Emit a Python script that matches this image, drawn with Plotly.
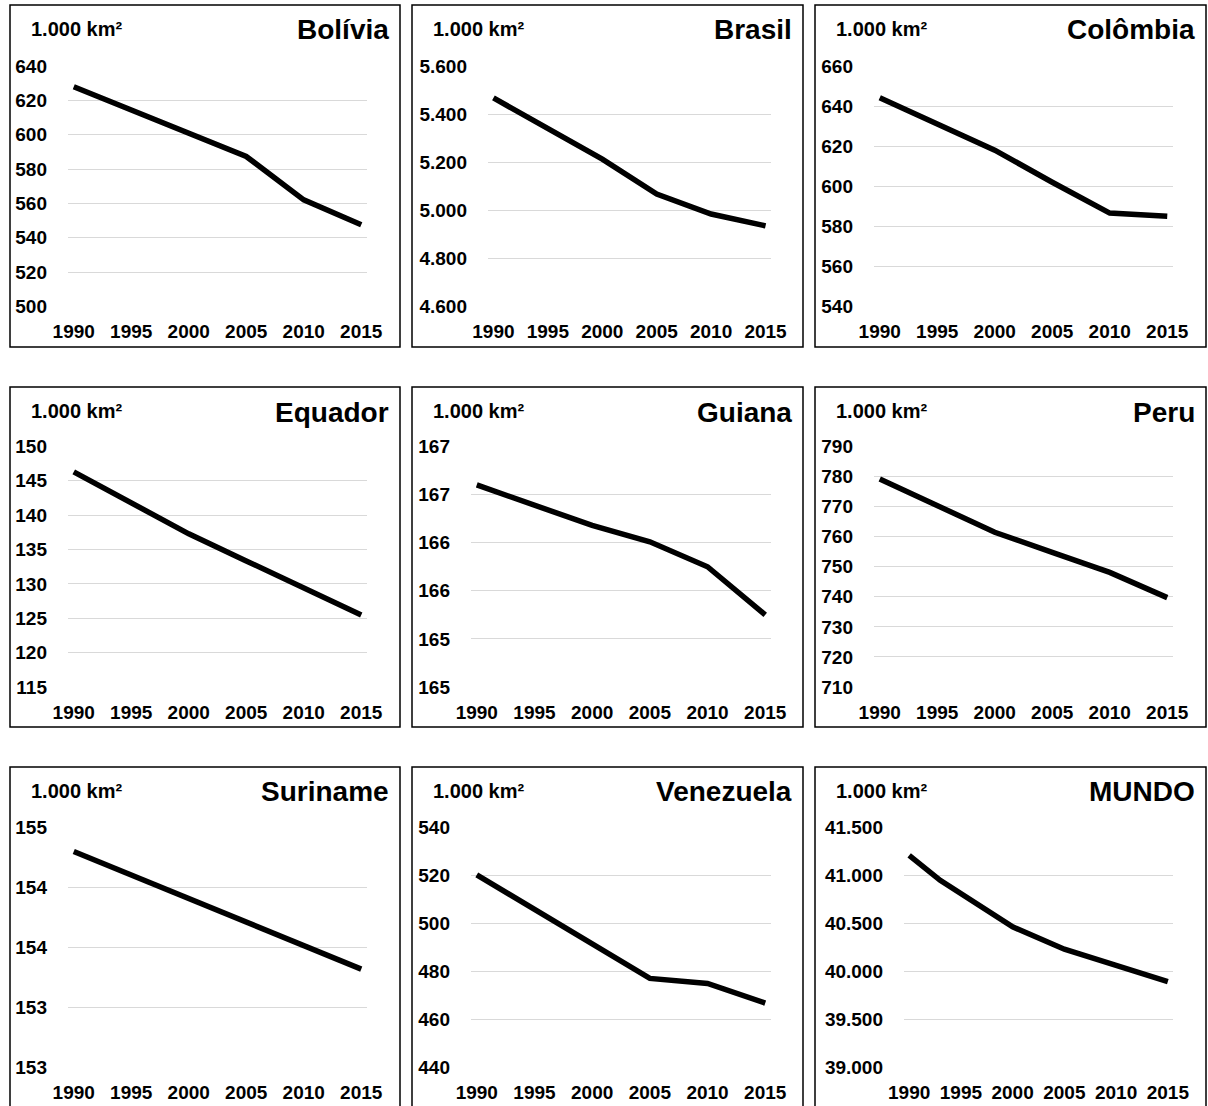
import plotly.graph_objects as go

W, H = 1208, 1106

# ---------------- data (1.000 km²) ----------------
years = [1990, 2000, 2005, 2010, 2015]
years_mundo = [1990, 1993, 2000, 2005, 2010, 2015]
tick_years = [1990, 1995, 2000, 2005, 2010, 2015]

bolivia = [627.95, 600.91, 587.34, 562.09, 547.64]
brasil = [5467.05, 5212.74, 5067.34, 4984.58, 4935.38]
colombia = [644.2, 618.0, 602.0, 586.6, 585.0]
equador = [146.31, 137.29, 133.35, 129.42, 125.48]
guiana = [166.60, 166.18, 166.01, 165.75, 165.25]
peru = [779.21, 761.47, 754.8, 748.11, 739.73]
suriname = [154.30, 153.91, 153.71, 153.51, 153.32]
venezuela = [520.26, 491.51, 477.13, 475.05, 466.83]
mundo = [41210, 40950, 40465, 40232, 40065, 39895]

# y tick values and their labels
bolivia_ticks = [500, 520, 540, 560, 580, 600, 620, 640]
brasil_ticks = [4600, 4800, 5000, 5200, 5400, 5600]
brasil_labels = ["4.600", "4.800", "5.000", "5.200", "5.400", "5.600"]
colombia_ticks = [540, 560, 580, 600, 620, 640, 660]
equador_ticks = [115, 120, 125, 130, 135, 140, 145, 150]
guiana_ticks = [164.5, 165.0, 165.5, 166.0, 166.5, 167.0]
guiana_labels = ["165", "165", "166", "166", "167", "167"]
peru_ticks = [710, 720, 730, 740, 750, 760, 770, 780, 790]
suriname_ticks = [152.5, 153.0, 153.5, 154.0, 154.5]
suriname_labels = ["153", "153", "154", "154", "155"]
venezuela_ticks = [440, 460, 480, 500, 520, 540]
mundo_ticks = [39000, 39500, 40000, 40500, 41000, 41500]
mundo_labels = ["39.000", "39.500", "40.000", "40.500", "41.000", "41.500"]

unit_label = "1.000 km²"

panels = [
    ("Bolívia", years, bolivia, bolivia_ticks, [str(v) for v in bolivia_ticks]),
    ("Brasil", years, brasil, brasil_ticks, brasil_labels),
    ("Colômbia", years, colombia, colombia_ticks, [str(v) for v in colombia_ticks]),
    ("Equador", years, equador, equador_ticks, [str(v) for v in equador_ticks]),
    ("Guiana", years, guiana, guiana_ticks, guiana_labels),
    ("Peru", years, peru, peru_ticks, [str(v) for v in peru_ticks]),
    ("Suriname", years, suriname, suriname_ticks, suriname_labels),
    ("Venezuela", years, venezuela, venezuela_ticks, [str(v) for v in venezuela_ticks]),
    ("MUNDO", years_mundo, mundo, mundo_ticks, mundo_labels),
]

# ---------------- layout geometry (pixels) ----------------
box_x = [(10, 400), (412, 803), (815, 1206)]
box_y = [(5, 347), (387, 727), (767, 1109)]
plot_y = [(65.5, 307), (446, 687.5), (827, 1068)]
plot_right = [367, 771, 1173]
plot_left = [68, 488, 874, 68, 471, 874, 68, 471, 904]

FONT = "Arial, 'Liberation Sans', sans-serif"

fig = go.Figure()
layout = dict(
    width=W, height=H, autosize=False,
    margin=dict(l=0, r=0, t=0, b=0, pad=0, autoexpand=False),
    paper_bgcolor="white", plot_bgcolor="white",
    showlegend=False,
    font=dict(family=FONT, color="black"),
)
shapes = []
annotations = []

def px_x(v):
    return v / W

def px_y(v):
    return 1 - v / H

for i, (name, xs, ys, tv, tt) in enumerate(panels):
    r, c = divmod(i, 3)
    n = "" if i == 0 else str(i + 1)
    xa = "x" + n
    ya = "y" + n
    fig.add_trace(go.Scatter(
        x=xs, y=ys, mode="lines",
        line=dict(color="black", width=5.5),
        xaxis=xa, yaxis=ya, hoverinfo="skip",
    ))
    y0, y1 = plot_y[r]
    lo, hi = tv[0], tv[-1]
    eps = (hi - lo) * 0.002
    layout["xaxis" + n] = dict(
        domain=[px_x(plot_left[i]), px_x(plot_right[c])],
        anchor=ya, automargin=False,
        range=[1989.5, 2015.5],
        tickvals=tick_years,
        ticktext=[str(t) for t in tick_years],
        showgrid=False, zeroline=False, showline=False, ticks="",
        tickfont=dict(size=19, family=FONT, color="black", weight="bold"),
        ticklabelstandoff=11,
        fixedrange=True,
    )
    layout["yaxis" + n] = dict(
        domain=[px_y(y1), px_y(y0)],
        anchor=xa, automargin=False,
        range=[lo - eps, hi + eps],
        tickvals=tv, ticktext=tt,
        showgrid=True, gridcolor="#d9d9d9", gridwidth=1.2,
        zeroline=False, showline=False, ticks="",
        tickfont=dict(size=19, family=FONT, color="black", weight="bold"),
        ticklabelstandoff=20,
        fixedrange=True,
    )
    bx0, bx1 = box_x[c]
    by0, by1 = box_y[r]
    shapes.append(dict(
        type="rect", xref="paper", yref="paper",
        x0=px_x(bx0), x1=px_x(bx1), y0=px_y(by1), y1=px_y(by0),
        line=dict(color="black", width=1.5), fillcolor="rgba(0,0,0,0)",
        layer="above",
    ))
    annotations.append(dict(
        text=unit_label, xref="paper", yref="paper",
        x=px_x(bx0 + 19), y=px_y(by0 + 24),
        xanchor="left", yanchor="middle", showarrow=False,
        font=dict(size=20, family=FONT, color="black", weight="bold"),
    ))
    annotations.append(dict(
        text=name, xref="paper", yref="paper",
        x=px_x(bx1 - 9), y=px_y(by0 + 25),
        xanchor="right", yanchor="middle", showarrow=False,
        font=dict(size=28, family=FONT, color="black", weight="bold"),
    ))

layout["shapes"] = shapes
layout["annotations"] = annotations
fig.update_layout(**layout)
# remove the browser's default 8px body margin so the figure fills the window exactly
fig.write_html(
    "out.html",
    config={"displayModeBar": False},
    post_script="document.body.style.margin='0px';",
)
